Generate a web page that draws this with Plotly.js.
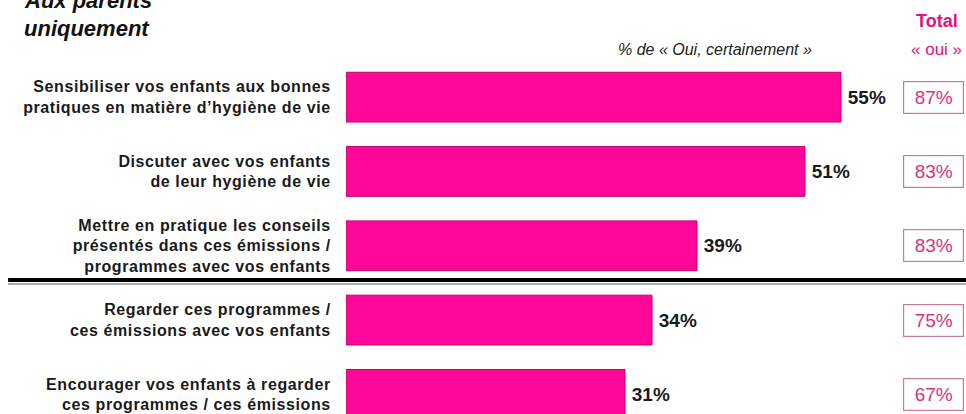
<!DOCTYPE html>
<html>
<head>
<meta charset="utf-8">
<script src="https://cdn.plot.ly/plotly-3.0.1.min.js"></script>
<style>
html,body{margin:0;padding:0;background:#fff;}
#chart{width:966px;height:414px;}
#chart .ytick text{letter-spacing:0.6px;}
#chart .textpoint text{letter-spacing:0.5px;}
</style>
</head>
<body>
<div id="chart"></div>
<script>
const categories = [
  "Sensibiliser vos enfants aux bonnes<br>pratiques en matière d’hygiène de vie",
  "Discuter avec vos enfants<br>de leur hygiène de vie",
  "Mettre en pratique les conseils<br>présentés dans ces émissions /<br>programmes avec vos enfants",
  "Regarder ces programmes /<br>ces émissions avec vos enfants",
  "Encourager vos enfants à regarder<br>ces programmes / ces émissions"
];
const ouiCertainement = [55, 51, 39, 34, 31];
const totalOui = [87, 83, 83, 75, 67];
const separatorAfter = 2;

const FONT = "Liberation Sans, Arial, sans-serif";
const PINK = "#ff0899";
const PINK_TXT = "#d8327f";

const idx = categories.map((c, i) => i);

const trace = {
  type: "bar",
  orientation: "h",
  y: idx,
  x: ouiCertainement,
  width: 0.67,
  marker: { color: PINK, line: { color: "#c0006e", width: 1 } },
  text: ouiCertainement.map(v => "<b>\u2009" + v + "%</b>"),
  textposition: "outside",
  textfont: { family: FONT, size: 19, color: "#1a1a1a" },
  cliponaxis: false,
  hoverinfo: "skip"
};

const annotations = [];
totalOui.forEach((v, i) => {
  annotations.push({
    xref: "paper", yref: "y", x: 0.947, y: i, xanchor: "center", yanchor: "middle",
    text: v + "%", showarrow: false,
    font: { family: FONT, size: 19, color: PINK_TXT },
    bordercolor: "#c77aa0", borderwidth: 1.2, borderpad: 2,
    width: 55, height: 27, bgcolor: "#fff"
  });
});
annotations.push(
  { xref: "paper", yref: "paper", x: -0.5226, y: 1.169, xanchor: "left", yanchor: "middle",
    text: "<b><i>Aux parents</i></b>", showarrow: false, font: { family: FONT, size: 22, color: "#111" } },
  { xref: "paper", yref: "paper", x: -0.5226, y: 1.0876, xanchor: "left", yanchor: "middle",
    text: "<b><i>uniquement</i></b>", showarrow: false, font: { family: FONT, size: 22, color: "#111" } },
  { xref: "paper", yref: "paper", x: 0.595, y: 1.031, xanchor: "center", yanchor: "middle",
    text: "<i>% de « Oui, certainement »</i>", showarrow: false, font: { family: FONT, size: 16, color: "#222" } },
  { xref: "paper", yref: "paper", x: 0.953, y: 1.1088, xanchor: "center", yanchor: "middle",
    text: "<b>Total</b>", showarrow: false, font: { family: FONT, size: 18, color: "#e0137f" } },
  { xref: "paper", yref: "paper", x: 0.953, y: 1.031, xanchor: "center", yanchor: "middle",
    text: "« oui »", showarrow: false, font: { family: FONT, size: 17, color: "#e0137f" } }
);

const sepY = separatorAfter + 0.5 - 0.04;
const shapes = [
  { type: "line", xref: "paper", yref: "y", x0: -0.545, x1: 1, y0: sepY + 0.055, y1: sepY + 0.055,
    line: { color: "#a8a8a8", width: 2 } },
  { type: "line", xref: "paper", yref: "y", x0: -0.545, x1: 1, y0: sepY, y1: sepY,
    line: { color: "#000", width: 4 } }
];

const layout = {
  width: 966, height: 414,
  margin: { l: 346, r: 0, t: 60, b: 0 },
  paper_bgcolor: "#fff", plot_bgcolor: "#fff",
  showlegend: false,
  xaxis: { range: [0, 68.89], visible: false, fixedrange: true },
  yaxis: {
    type: "linear", range: [4.264, -0.5],
    tickmode: "array", tickvals: idx, ticktext: categories.map(c => "<b>" + c + "</b>"),
    tickfont: { family: FONT, size: 16, color: "#1a1a1a" },
    ticks: "outside", ticklen: 11, tickcolor: "rgba(0,0,0,0)",
    showgrid: false, zeroline: false, showline: false, fixedrange: true
  },
  annotations: annotations,
  shapes: shapes
};

Plotly.newPlot("chart", [trace], layout, { displayModeBar: false, staticPlot: true });
</script>
</body>
</html>
